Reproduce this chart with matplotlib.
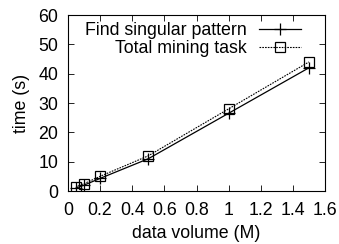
import matplotlib
matplotlib.use('Agg')
import matplotlib.pyplot as plt

plt.rcParams['font.family'] = ['Liberation Sans', 'DejaVu Sans']

data_volume = [0.05, 0.1, 0.2, 0.5, 1.0, 1.5]
find_singular = [1.0, 2.0, 4.3, 11.0, 26.5, 42.0]
total_mining = [1.5, 2.5, 5.0, 12.0, 28.0, 44.0]

fs = 12.8

fig = plt.figure(figsize=(3.39, 2.44), dpi=100)
ax = fig.add_axes([68 / 339, 1 - 191 / 244, 257 / 339, 176 / 244])

ax.plot(data_volume, find_singular, color='black', linestyle='-', linewidth=0.9,
        marker='+', markersize=8, markeredgewidth=0.9, label='Find singular pattern')
ax.plot(data_volume, total_mining, color='black', linestyle=(0, (1.5, 1)), linewidth=0.8,
        marker='s', markersize=7, markerfacecolor='none', markeredgewidth=0.9,
        label='Total mining task')

ax.set_xlim(0, 1.6)
ax.set_ylim(0, 60)
ax.set_xticks([0, 0.2, 0.4, 0.6, 0.8, 1.0, 1.2, 1.4, 1.6])
ax.set_xticklabels(['0', '0.2', '0.4', '0.6', '0.8', '1', '1.2', '1.4', '1.6'])
ax.set_yticks([0, 10, 20, 30, 40, 50, 60])
ax.tick_params(direction='in', top=True, right=True, labelsize=fs, length=4, width=0.6)
ax.tick_params(axis='y', pad=7)
ax.tick_params(axis='x', pad=8)
for s in ax.spines.values():
    s.set_linewidth(0.8)

ax.set_xlabel('data volume (M)', fontsize=fs, labelpad=4)
ax.set_ylabel('time (s)', fontsize=fs, labelpad=6)

ax.legend(loc='upper right', frameon=False, markerfirst=False, fontsize=fs,
          handlelength=2.4, handletextpad=0.7, labelspacing=0.05,
          borderaxespad=0.2, bbox_to_anchor=(0.95, 1.02))

fig.savefig('out.png', dpi=100)
